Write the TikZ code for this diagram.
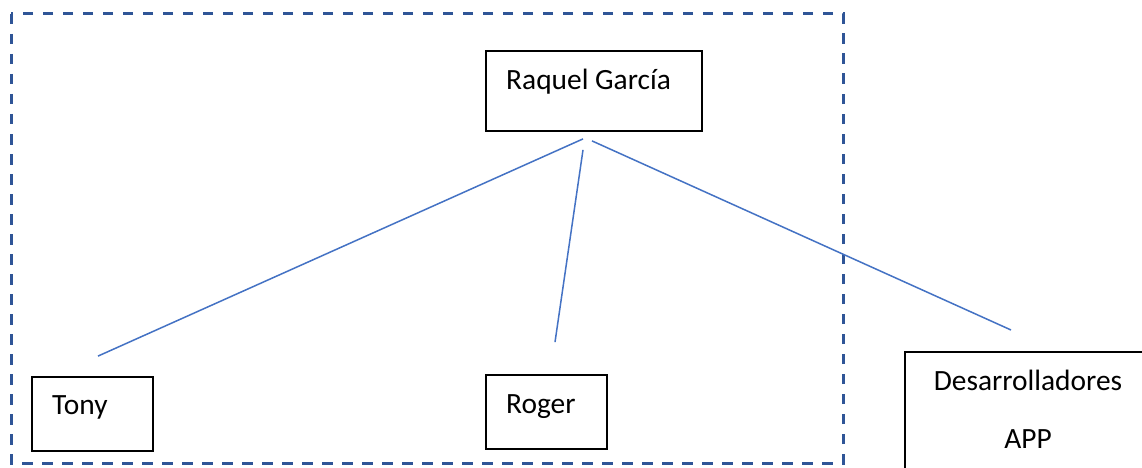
\documentclass[tikz,border=0pt]{standalone}
\usepackage{fontspec}
\setmainfont{Carlito}
\usetikzlibrary{calc}
\begin{document}
\begin{tikzpicture}[x=1pt,y=-1pt,
  box/.style={draw=black,line width=1.8pt,minimum width=#1,inner sep=0pt},
  lbl/.style={inner sep=0pt,anchor=base west,font=\fontsize{29.4}{33}\selectfont},
  clbl/.style={inner sep=0pt,anchor=base,font=\fontsize{29.4}{33}\selectfont},
  link/.style={draw={rgb,255:red,68;green,114;blue,196},line width=1.5pt},
  frame/.style={draw={rgb,255:red,47;green,85;blue,151},line width=3pt,dash pattern=on 10.5pt off 9.5pt}]
\clip (0,0) rectangle (1142,468);
\fill[white] (0,0) rectangle (1142,468);

% team boundary
\draw[frame] (11,14) rectangle (843,463);

% boxes
\node[box=216pt,minimum height=80pt] (raquel) at (594,91) {};
\node[box=121pt,minimum height=74pt] (tony) at (92.5,414) {};
\node[box=121pt,minimum height=74pt] (roger) at (546.5,412) {};
\node[box=260pt,minimum height=140pt,anchor=north west] (devs) at (904,351) {};

% labels
\node[lbl] (raquelT) at (506,90) {Raquel García};
\node[lbl] (tonyT) at (52,414) {Tony};
\node[lbl] (rogerT) at (506,413) {Roger};
\node[clbl] (devsT) at (1028,390) {Desarrolladores};
\node[clbl] (appT) at (1028,448) {APP};

% connector ends
\coordinate (r1) at ($(raquel.south)+(-11,7)$);
\coordinate (r2) at ($(raquel.south)+(-11,18)$);
\coordinate (r3) at ($(raquel.south)+(-2,9)$);
\coordinate (t1) at ($(tony.north)+(5.5,-20)$);
\coordinate (g1) at ($(roger.north)+(8.5,-32)$);
\coordinate (d1) at ($(devs.north west)+(107,-21)$);

\draw[link] (r1) -- (t1);
\draw[link] (r2) -- (g1);
\draw[link] (r3) -- (d1);
\end{tikzpicture}
\end{document}
